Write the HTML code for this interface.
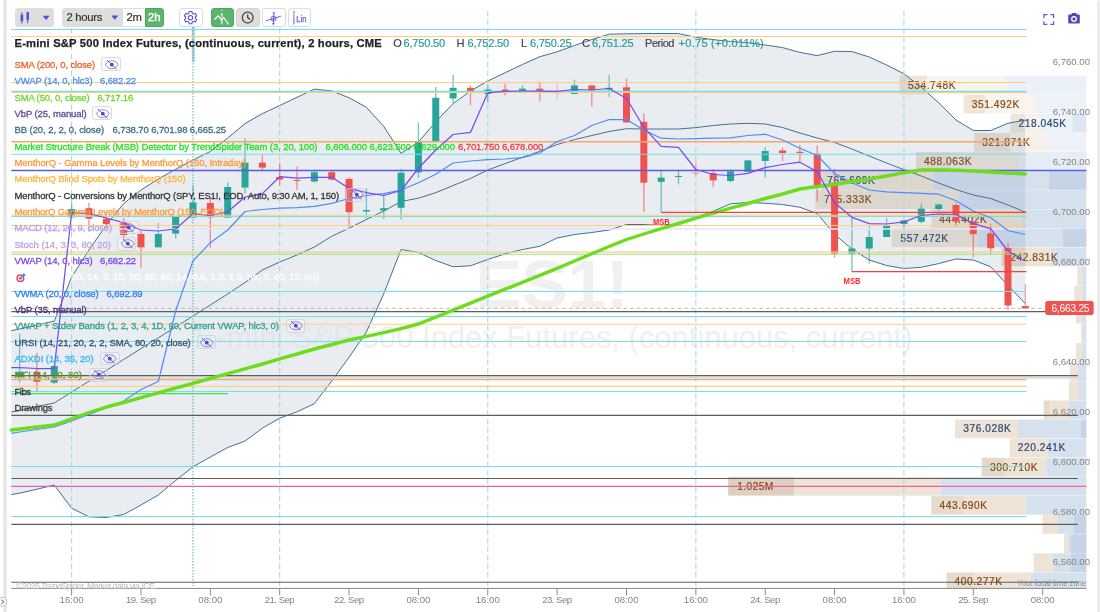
<!DOCTYPE html>
<html lang="en"><head><meta charset="utf-8"><title>E-mini S&amp;P 500 Index Futures chart</title>
<style>
html,body{margin:0;padding:0;background:#fff;}
body{width:1100px;height:612px;overflow:hidden;position:relative;will-change:transform;font-family:"Liberation Sans",sans-serif;}
.frame-l{position:absolute;left:2.5px;top:0;width:4.6px;height:612px;background:linear-gradient(90deg,#f1f1f1,#e6e6e6 30%,#e6e6e6 70%,#f1f1f1);}
.frame-r{position:absolute;left:1097px;top:0;width:3px;height:612px;background:#ececec;border-top-left-radius:3px;}
.chart{position:absolute;left:0;top:0;}
.tb-btn{position:absolute;top:7.5px;height:19.4px;box-sizing:border-box;border:1px solid #dcdcdc;border-radius:3px;background:#fff;}
.tb-btn svg{position:absolute;left:0;top:0;}
.grey{background:#dedede;border-color:#dedede;}
.green{background:#5db56c;border-color:#4fa75f;}
.tb-txt{position:absolute;font-size:11.3px;letter-spacing:-0.32px;color:#333;top:2.7px;line-height:12px;white-space:nowrap;-webkit-text-stroke:0.2px currentColor;}
.legend span,.titlebar span{position:absolute;white-space:nowrap;}
.lt{font-size:9.5px;line-height:12px;-webkit-text-stroke:0.28px currentColor;}
.eye{height:11.7px;border:1px solid rgba(205,205,205,0.75);border-radius:3px;background:rgba(255,255,255,0.14);box-sizing:content-box;}
.eye svg{position:absolute;left:-0.7px;top:-0.7px;}
.ticon svg{display:block;}
.tb{font-size:11.2px;font-weight:bold;top:36.6px;line-height:13px;-webkit-text-stroke:0.25px #222;}
.to{font-size:11.1px;top:36.9px;line-height:13px;-webkit-text-stroke:0.18px currentColor;}
</style></head>
<body>
<div class="frame-l"></div><div class="frame-r"></div>
<svg class="chart" width="1100" height="612" viewBox="0 0 1100 612">
<defs><clipPath id="outbb"><path clip-rule="evenodd" d="M0 0 H1100 V612 H0 Z M11.3 330.6 L19.6 329 L36.94 325 L54.28 321.1 L71.62 277 L88.96 250 L106.3 225 L123.64 203.6 L140.98 190 L158.32 179 L175.66 169.2 L193 160 L210.34 151.5 L227.68 138 L245.02 123.6 L262.36 113.6 L279.7 105.5 L297.04 97.3 L314.38 89.1 L331.72 90.9 L349.06 97.8 L366.4 107.3 L383.74 126.4 L401.08 153.3 L418.42 142 L435.76 121.8 L453.1 103.6 L470.44 91 L487.78 81 L505.12 72.7 L522.46 64.5 L539.8 56.7 L557.14 51.8 L574.48 45.5 L591.82 39.5 L609.16 34.2 L626.5 33.8 L643.84 33.6 L661.18 33.5 L678.52 33.6 L695.86 37.3 L713.2 39.6 L730.54 41.5 L747.88 42.7 L765.22 45 L782.56 47.6 L799.9 52.4 L817.24 55.6 L834.58 51.3 L851.92 51.6 L869.26 57 L886.6 65 L903.94 73.8 L921.28 87.3 L938.62 102.7 L955.96 120 L973.3 130.5 L990.64 130.5 L1007.98 123.3 L1025.32 120 L1025.32 303.6 L1007.98 285.5 L990.64 266.7 L973.3 260 L955.96 259 L938.62 263.6 L921.28 267.3 L903.94 268.5 L886.6 265.5 L869.26 260 L851.92 249 L834.58 234.5 L817.24 213.6 L799.9 207.3 L782.56 204.5 L765.22 203.3 L747.88 202.5 L730.54 203.8 L713.2 211.3 L695.86 217.5 L678.52 224.5 L661.18 225.5 L643.84 224.5 L626.5 224.5 L609.16 230 L591.82 232.5 L574.48 234.5 L557.14 238 L539.8 246.3 L522.46 249.5 L505.12 253.8 L487.78 259.5 L470.44 265.8 L453.1 266.8 L435.76 260.5 L418.42 252.5 L401.08 249.5 L383.74 293.8 L366.4 332 L349.06 357.3 L331.72 381 L314.38 403.6 L297.04 411.8 L279.7 418.2 L262.36 428.2 L245.02 441 L227.68 447.5 L210.34 457 L193 466.8 L175.66 480.5 L158.32 495 L140.98 505 L123.64 514.5 L106.3 517.5 L88.96 516.8 L71.62 508.2 L54.28 485 L36.94 489.2 L19.6 493.2 L11.3 494.5 Z"/></clipPath></defs>
<g class="wm" fill="#f7f7f7" font-family='"Liberation Sans", sans-serif'><text x="475.5" y="308" font-size="69" font-weight="bold">ES1!</text><text x="195.5" y="347.7" font-size="30.9" textLength="717" lengthAdjust="spacingAndGlyphs">E-mini S&amp;P 500 Index Futures, (continuous, current)</text></g>
<g class="wm" fill="#f0f0f0" clip-path="url(#outbb)" font-family='"Liberation Sans", sans-serif'><text x="475.5" y="308" font-size="69" font-weight="bold">ES1!</text><text x="195.5" y="347.7" font-size="30.9" textLength="717" lengthAdjust="spacingAndGlyphs">E-mini S&amp;P 500 Index Futures, (continuous, current)</text></g>
<g class="vp">
<rect x="899.6" y="75.6" width="27.3" height="18.75" fill="#efe6da"/>
<rect x="926.9" y="75.6" width="80.1" height="18.75" fill="#f8f4ee"/>
<rect x="1007" y="75.6" width="79.4" height="18.75" fill="#ebf1f8"/>
<rect x="963.6" y="94.71" width="22.2" height="18.75" fill="#efe6da"/>
<rect x="985.8" y="94.71" width="50.2" height="18.75" fill="#f8f4ee"/>
<rect x="1036" y="94.71" width="50.4" height="18.75" fill="#edf2f8"/>
<rect x="1010.4" y="113.82" width="15.1" height="18.75" fill="#efe6da"/>
<rect x="1025.5" y="113.82" width="15.5" height="18.75" fill="#f6f2eb"/>
<rect x="1041" y="113.82" width="31.4" height="18.75" fill="#edf2f8"/>
<rect x="1072.4" y="113.82" width="14" height="18.75" fill="#dde6f1"/>
<rect x="974.2" y="132.92" width="36.2" height="18.75" fill="#ece2d5"/>
<rect x="1010.4" y="132.92" width="37.6" height="18.75" fill="#f6f2eb"/>
<rect x="1048" y="132.92" width="38.4" height="18.75" fill="#edf2f8"/>
<rect x="916" y="152.03" width="35.3" height="18.75" fill="#ece2d4"/>
<rect x="951.3" y="152.03" width="67.7" height="18.75" fill="#f1e9de"/>
<rect x="1019" y="152.03" width="67.4" height="18.75" fill="#e6edf5"/>
<rect x="821" y="171.14" width="112.6" height="18.75" fill="#f0e6d8"/>
<rect x="933.6" y="171.14" width="115.1" height="18.75" fill="#d6e1ee"/>
<rect x="1048.7" y="171.14" width="37.7" height="18.75" fill="#c7d4e7"/>
<rect x="815.5" y="190.25" width="143" height="18.75" fill="#f0e6d8"/>
<rect x="958.5" y="190.25" width="127.9" height="18.75" fill="#d6e1ee"/>
<rect x="931.3" y="209.36" width="90.2" height="18.75" fill="#f0e6d8"/>
<rect x="1021.5" y="209.36" width="64.9" height="18.75" fill="#d6e1ee"/>
<rect x="891.5" y="228.46" width="85.8" height="18.75" fill="#f0e6d8"/>
<rect x="977.3" y="228.46" width="85.1" height="18.75" fill="#d6e1ee"/>
<rect x="1062.4" y="228.46" width="24" height="18.75" fill="#c7d4e7"/>
<rect x="1001.5" y="247.57" width="24.5" height="18.75" fill="#ebdfcf"/>
<rect x="1026" y="247.57" width="24.5" height="18.75" fill="#ede4d7"/>
<rect x="1050.5" y="247.57" width="35.9" height="18.75" fill="#d6e1ee"/>
<rect x="1077.3" y="266.68" width="4.5" height="18.75" fill="#ede4d7"/>
<rect x="1081.8" y="266.68" width="4.6" height="18.75" fill="#d6e1ee"/>
<rect x="1074.2" y="285.79" width="7.6" height="18.75" fill="#ede4d7"/>
<rect x="1081.8" y="285.79" width="4.6" height="18.75" fill="#d6e1ee"/>
<rect x="1076" y="304.9" width="6" height="18.75" fill="#ede4d7"/>
<rect x="1082" y="304.9" width="4.4" height="18.75" fill="#d6e1ee"/>
<rect x="1081" y="324" width="2" height="18.75" fill="#ede4d7"/>
<rect x="1083" y="324" width="3.4" height="18.75" fill="#d6e1ee"/>
<rect x="1076" y="343.11" width="6" height="18.75" fill="#ede4d7"/>
<rect x="1082" y="343.11" width="4.4" height="18.75" fill="#d6e1ee"/>
<rect x="1070" y="362.22" width="8" height="18.75" fill="#ede4d7"/>
<rect x="1078" y="362.22" width="8.4" height="18.75" fill="#d6e1ee"/>
<rect x="1069" y="381.33" width="10" height="18.75" fill="#ede4d7"/>
<rect x="1079" y="381.33" width="7.4" height="18.75" fill="#d6e1ee"/>
<rect x="1043.6" y="400.44" width="6.9" height="18.75" fill="#e6dccd"/>
<rect x="1050.5" y="400.44" width="18.2" height="18.75" fill="#ede4d7"/>
<rect x="1068.7" y="400.44" width="17.7" height="18.75" fill="#d6e1ee"/>
<rect x="955" y="419.54" width="63" height="18.75" fill="#ede4d7"/>
<rect x="1018" y="419.54" width="63" height="18.75" fill="#d6e1ee"/>
<rect x="1081" y="419.54" width="5.4" height="18.75" fill="#c7d4e7"/>
<rect x="1009.6" y="438.65" width="38.2" height="18.75" fill="#ede4d7"/>
<rect x="1047.8" y="438.65" width="38.6" height="18.75" fill="#d6e1ee"/>
<rect x="981.5" y="457.76" width="22.5" height="18.75" fill="#e4d9c9"/>
<rect x="1004" y="457.76" width="41.5" height="18.75" fill="#ede4d7"/>
<rect x="1045.5" y="457.76" width="40.9" height="18.75" fill="#d6e1ee"/>
<rect x="728.2" y="476.87" width="66.3" height="18.75" fill="#ddd0be"/>
<rect x="794.5" y="476.87" width="146.5" height="18.75" fill="#ede4d7"/>
<rect x="941" y="476.87" width="145.4" height="18.75" fill="#d6e1ee"/>
<rect x="931.3" y="495.98" width="33.2" height="18.75" fill="#e6dccd"/>
<rect x="964.5" y="495.98" width="61.3" height="18.75" fill="#ede4d7"/>
<rect x="1025.8" y="495.98" width="60.6" height="18.75" fill="#d6e1ee"/>
<rect x="1042.4" y="515.08" width="15.6" height="18.75" fill="#ede4d7"/>
<rect x="1058" y="515.08" width="16" height="18.75" fill="#d6e1ee"/>
<rect x="1074" y="515.08" width="12.4" height="18.75" fill="#c7d4e7"/>
<rect x="1064" y="534.19" width="4" height="18.75" fill="#ede4d7"/>
<rect x="1068" y="534.19" width="3" height="18.75" fill="#d6e1ee"/>
<rect x="1071" y="534.19" width="15.4" height="18.75" fill="#c7d4e7"/>
<rect x="1033.6" y="553.3" width="18.8" height="18.75" fill="#ede4d7"/>
<rect x="1052.4" y="553.3" width="18.6" height="18.75" fill="#d6e1ee"/>
<rect x="1071" y="553.3" width="15.4" height="18.75" fill="#c7d4e7"/>
<rect x="946.4" y="572.41" width="27.6" height="15.89" fill="#e6dccd"/>
<rect x="974" y="572.41" width="56.4" height="15.89" fill="#ede4d7"/>
<rect x="1030.4" y="572.41" width="56" height="15.89" fill="#d6e1ee"/>
</g>
<g class="vplabels" font-family='"Liberation Sans", sans-serif' font-size="10.2">
<text x="908" y="89.1" fill="#8a4a17" stroke="#8a4a17" stroke-width="0.22" textLength="47.5" lengthAdjust="spacing">534.748K</text>
<text x="971.8" y="107.8" fill="#8a4a17" stroke="#8a4a17" stroke-width="0.22" textLength="47.5" lengthAdjust="spacing">351.492K</text>
<text x="1018.5" y="126.9" fill="#2c4a78" stroke="#2c4a78" stroke-width="0.22" textLength="47.5" lengthAdjust="spacing">218.045K</text>
<text x="982.2" y="146" fill="#8a4a17" stroke="#8a4a17" stroke-width="0.22" textLength="47.5" lengthAdjust="spacing">321.871K</text>
<text x="924" y="165.1" fill="#8a4a17" stroke="#8a4a17" stroke-width="0.22" textLength="47.5" lengthAdjust="spacing">488.063K</text>
<text x="827.3" y="184" fill="#2c4a78" stroke="#2c4a78" stroke-width="0.22" textLength="47.5" lengthAdjust="spacing">765.609K</text>
<text x="824" y="203.2" fill="#8a4a17" stroke="#8a4a17" stroke-width="0.22" textLength="47.5" lengthAdjust="spacing">715.333K</text>
<text x="939.3" y="222.6" fill="#8a4a17" stroke="#8a4a17" stroke-width="0.22" textLength="47.5" lengthAdjust="spacing">444.402K</text>
<text x="900.5" y="241.8" fill="#2c4a78" stroke="#2c4a78" stroke-width="0.22" textLength="47.5" lengthAdjust="spacing">557.472K</text>
<text x="1010.3" y="261.1" fill="#8a4a17" stroke="#8a4a17" stroke-width="0.22" textLength="47.5" lengthAdjust="spacing">242.831K</text>
<text x="963.3" y="432.3" fill="#2c4a78" stroke="#2c4a78" stroke-width="0.22" textLength="47.5" lengthAdjust="spacing">376.028K</text>
<text x="1017.8" y="450.9" fill="#2c4a78" stroke="#2c4a78" stroke-width="0.22" textLength="47.5" lengthAdjust="spacing">220.241K</text>
<text x="990" y="470.8" fill="#8a4a17" stroke="#8a4a17" stroke-width="0.22" textLength="47.5" lengthAdjust="spacing">300.710K</text>
<text x="737.3" y="490.1" fill="#8a4a17" stroke="#8a4a17" stroke-width="0.22" textLength="36" lengthAdjust="spacing">1.025M</text>
<text x="939.6" y="508.6" fill="#8a4a17" stroke="#8a4a17" stroke-width="0.22" textLength="47.5" lengthAdjust="spacing">443.690K</text>
<text x="954.5" y="584.6" fill="#8a4a17" stroke="#8a4a17" stroke-width="0.22" textLength="47.5" lengthAdjust="spacing">400.277K</text>
</g>
<polygon points="11.3,330.6 19.6,329 36.94,325 54.28,321.1 71.62,277 88.96,250 106.3,225 123.64,203.6 140.98,190 158.32,179 175.66,169.2 193,160 210.34,151.5 227.68,138 245.02,123.6 262.36,113.6 279.7,105.5 297.04,97.3 314.38,89.1 331.72,90.9 349.06,97.8 366.4,107.3 383.74,126.4 401.08,153.3 418.42,142 435.76,121.8 453.1,103.6 470.44,91 487.78,81 505.12,72.7 522.46,64.5 539.8,56.7 557.14,51.8 574.48,45.5 591.82,39.5 609.16,34.2 626.5,33.8 643.84,33.6 661.18,33.5 678.52,33.6 695.86,37.3 713.2,39.6 730.54,41.5 747.88,42.7 765.22,45 782.56,47.6 799.9,52.4 817.24,55.6 834.58,51.3 851.92,51.6 869.26,57 886.6,65 903.94,73.8 921.28,87.3 938.62,102.7 955.96,120 973.3,130.5 990.64,130.5 1007.98,123.3 1025.32,120 1025.32,303.6 1007.98,285.5 990.64,266.7 973.3,260 955.96,259 938.62,263.6 921.28,267.3 903.94,268.5 886.6,265.5 869.26,260 851.92,249 834.58,234.5 817.24,213.6 799.9,207.3 782.56,204.5 765.22,203.3 747.88,202.5 730.54,203.8 713.2,211.3 695.86,217.5 678.52,224.5 661.18,225.5 643.84,224.5 626.5,224.5 609.16,230 591.82,232.5 574.48,234.5 557.14,238 539.8,246.3 522.46,249.5 505.12,253.8 487.78,259.5 470.44,265.8 453.1,266.8 435.76,260.5 418.42,252.5 401.08,249.5 383.74,293.8 366.4,332 349.06,357.3 331.72,381 314.38,403.6 297.04,411.8 279.7,418.2 262.36,428.2 245.02,441 227.68,447.5 210.34,457 193,466.8 175.66,480.5 158.32,495 140.98,505 123.64,514.5 106.3,517.5 88.96,516.8 71.62,508.2 54.28,485 36.94,489.2 19.6,493.2 11.3,494.5" fill="rgba(70,110,150,0.12)"/>
<polyline points="11.3,330.6 19.6,329 36.94,325 54.28,321.1 71.62,277 88.96,250 106.3,225 123.64,203.6 140.98,190 158.32,179 175.66,169.2 193,160 210.34,151.5 227.68,138 245.02,123.6 262.36,113.6 279.7,105.5 297.04,97.3 314.38,89.1 331.72,90.9 349.06,97.8 366.4,107.3 383.74,126.4 401.08,153.3 418.42,142 435.76,121.8 453.1,103.6 470.44,91 487.78,81 505.12,72.7 522.46,64.5 539.8,56.7 557.14,51.8 574.48,45.5 591.82,39.5 609.16,34.2 626.5,33.8 643.84,33.6 661.18,33.5 678.52,33.6 695.86,37.3 713.2,39.6 730.54,41.5 747.88,42.7 765.22,45 782.56,47.6 799.9,52.4 817.24,55.6 834.58,51.3 851.92,51.6 869.26,57 886.6,65 903.94,73.8 921.28,87.3 938.62,102.7 955.96,120 973.3,130.5 990.64,130.5 1007.98,123.3 1025.32,120" fill="none" stroke="#44718f" stroke-width="1.0" stroke-linejoin="round"/>
<polyline points="11.3,412 19.6,410.5 36.94,406.5 54.28,403 71.62,392 88.96,381.2 106.3,370.4 123.64,359.5 140.98,348.6 158.32,337.8 175.66,327 193,316 210.34,305 227.68,294 245.02,282.5 262.36,270 279.7,262 297.04,255 314.38,247 331.72,236.3 349.06,228.2 366.4,219.5 383.74,211 401.08,201.5 418.42,198.2 435.76,192.7 453.1,185.5 470.44,178.5 487.78,170 505.12,163.6 522.46,157.3 539.8,151.3 557.14,144.5 574.48,139.6 591.82,135.5 609.16,131.5 626.5,128.7 643.84,129 661.18,129 678.52,129 695.86,127.6 713.2,125.5 730.54,124 747.88,123.3 765.22,124 782.56,127.5 799.9,133 817.24,138 834.58,142.5 851.92,149 869.26,156 886.6,163 903.94,169.7 921.28,176 938.62,183 955.96,189.5 973.3,195 990.64,198.5 1007.98,205 1025.32,212.2" fill="none" stroke="#44718f" stroke-width="1.0" stroke-linejoin="round"/>
<polyline points="11.3,494.5 19.6,493.2 36.94,489.2 54.28,485 71.62,508.2 88.96,516.8 106.3,517.5 123.64,514.5 140.98,505 158.32,495 175.66,480.5 193,466.8 210.34,457 227.68,447.5 245.02,441 262.36,428.2 279.7,418.2 297.04,411.8 314.38,403.6 331.72,381 349.06,357.3 366.4,332 383.74,293.8 401.08,249.5 418.42,252.5 435.76,260.5 453.1,266.8 470.44,265.8 487.78,259.5 505.12,253.8 522.46,249.5 539.8,246.3 557.14,238 574.48,234.5 591.82,232.5 609.16,230 626.5,224.5 643.84,224.5 661.18,225.5 678.52,224.5 695.86,217.5 713.2,211.3 730.54,203.8 747.88,202.5 765.22,203.3 782.56,204.5 799.9,207.3 817.24,213.6 834.58,234.5 851.92,249 869.26,260 886.6,265.5 903.94,268.5 921.28,267.3 938.62,263.6 955.96,259 973.3,260 990.64,266.7 1007.98,285.5 1025.32,303.6" fill="none" stroke="#44718f" stroke-width="1.0" stroke-linejoin="round"/>
<g class="vgrid">
<line x1="71.62" y1="28" x2="71.62" y2="588" stroke="#b3d3d3" stroke-width="1.05" stroke-dasharray="5.5 3"/>
<line x1="279.7" y1="28" x2="279.7" y2="588" stroke="#b3d3d3" stroke-width="1.05" stroke-dasharray="5.5 3"/>
<line x1="487.78" y1="11" x2="487.78" y2="588" stroke="#b3d3d3" stroke-width="1.05" stroke-dasharray="5.5 3"/>
<line x1="695.86" y1="11" x2="695.86" y2="588" stroke="#b3d3d3" stroke-width="1.05" stroke-dasharray="5.5 3"/>
<line x1="903.94" y1="11" x2="903.94" y2="588" stroke="#b3d3d3" stroke-width="1.05" stroke-dasharray="5.5 3"/>
<line x1="193.3" y1="27" x2="193.3" y2="62" stroke="#a9d6e6" stroke-width="3"/>
<line x1="193" y1="27" x2="193" y2="586" stroke="#58a5ab" stroke-width="1.15" stroke-dasharray="1.5 1.5" opacity="0.85"/>
</g>
<g class="candles">
<g><line x1="19.6" y1="333.6" x2="19.6" y2="382.7" stroke="#26a69a" stroke-width="1.35" opacity="0.62"/><rect x="16.1" y="371.8" width="7" height="6.2" fill="#26a69a"/></g>
<g><line x1="36.94" y1="352.7" x2="36.94" y2="391" stroke="#ef5350" stroke-width="1.35" opacity="0.62"/><rect x="33.44" y="372" width="7" height="9.8" fill="#ef5350"/></g>
<g><line x1="54.28" y1="365" x2="54.28" y2="384" stroke="#26a69a" stroke-width="1.35" opacity="0.62"/><rect x="50.78" y="366" width="7" height="16.7" fill="#26a69a"/></g>
<g><line x1="71.62" y1="202.7" x2="71.62" y2="217.3" stroke="#26a69a" stroke-width="1.35" opacity="0.62"/><rect x="68.12" y="209" width="7" height="8.3" fill="#26a69a"/></g>
<g><line x1="88.96" y1="202.7" x2="88.96" y2="231.8" stroke="#ef5350" stroke-width="1.35" opacity="0.62"/><rect x="85.46" y="208.2" width="7" height="10.5" fill="#ef5350"/></g>
<g><line x1="106.3" y1="212" x2="106.3" y2="230.7" stroke="#ef5350" stroke-width="1.35" opacity="0.62"/><rect x="102.8" y="218.7" width="7" height="5.3" fill="#ef5350"/></g>
<g><line x1="123.64" y1="218" x2="123.64" y2="240" stroke="#ef5350" stroke-width="1.35" opacity="0.62"/><rect x="120.14" y="222.4" width="7" height="12.6" fill="#ef5350"/></g>
<g><line x1="140.98" y1="231" x2="140.98" y2="267.6" stroke="#ef5350" stroke-width="1.35" opacity="0.62"/><rect x="137.48" y="234" width="7" height="13.3" fill="#ef5350"/></g>
<g><line x1="158.32" y1="222.7" x2="158.32" y2="247.3" stroke="#26a69a" stroke-width="1.35" opacity="0.62"/><rect x="154.82" y="234" width="7" height="13.3" fill="#26a69a"/></g>
<g><line x1="175.66" y1="216.4" x2="175.66" y2="238.5" stroke="#26a69a" stroke-width="1.35" opacity="0.62"/><rect x="172.16" y="217" width="7" height="16.6" fill="#26a69a"/></g>
<g><line x1="193" y1="185.5" x2="193" y2="217.6" stroke="#26a69a" stroke-width="1.35" opacity="0.62"/><rect x="189.5" y="202.4" width="7" height="15.2" fill="#26a69a"/></g>
<g><line x1="210.34" y1="198" x2="210.34" y2="248" stroke="#ef5350" stroke-width="1.35" opacity="0.62"/><rect x="206.84" y="203" width="7" height="14.3" fill="#ef5350"/></g>
<g><line x1="227.68" y1="182.4" x2="227.68" y2="217.6" stroke="#26a69a" stroke-width="1.35" opacity="0.62"/><rect x="224.18" y="187" width="7" height="30.6" fill="#26a69a"/></g>
<g><line x1="245.02" y1="138.2" x2="245.02" y2="193.6" stroke="#26a69a" stroke-width="1.35" opacity="0.62"/><rect x="241.52" y="162.7" width="7" height="24.9" fill="#26a69a"/></g>
<g><line x1="262.36" y1="154.5" x2="262.36" y2="171.3" stroke="#ef5350" stroke-width="1.35" opacity="0.62"/><rect x="258.86" y="162.7" width="7" height="4.9" fill="#ef5350"/></g>
<g><line x1="279.7" y1="162.7" x2="279.7" y2="185.5" stroke="#ef5350" stroke-width="1.35" opacity="0.62"/><rect x="276.2" y="177" width="7" height="2.6" fill="#ef5350"/></g>
<g><line x1="297.04" y1="166.4" x2="297.04" y2="190" stroke="#ef5350" stroke-width="1.35" opacity="0.62"/><rect x="293.54" y="180" width="7" height="1" fill="#ef5350"/></g>
<g><line x1="314.38" y1="169.5" x2="314.38" y2="182.7" stroke="#26a69a" stroke-width="1.35" opacity="0.62"/><rect x="310.88" y="172.2" width="7" height="9.3" fill="#26a69a"/></g>
<g><line x1="331.72" y1="170" x2="331.72" y2="180.4" stroke="#ef5350" stroke-width="1.35" opacity="0.62"/><rect x="328.22" y="172.2" width="7" height="7.4" fill="#ef5350"/></g>
<g><line x1="349.06" y1="177.3" x2="349.06" y2="227.6" stroke="#ef5350" stroke-width="1.35" opacity="0.62"/><rect x="345.56" y="179" width="7" height="33.2" fill="#ef5350"/></g>
<g><line x1="366.4" y1="188.2" x2="366.4" y2="218.5" stroke="#26a69a" stroke-width="1.35" opacity="0.62"/><rect x="362.9" y="210" width="7" height="1.5" fill="#26a69a"/></g>
<g><line x1="383.74" y1="194.5" x2="383.74" y2="219" stroke="#26a69a" stroke-width="1.35" opacity="0.62"/><rect x="380.24" y="208.2" width="7" height="2.3" fill="#26a69a"/></g>
<g><line x1="401.08" y1="169" x2="401.08" y2="219.6" stroke="#26a69a" stroke-width="1.35" opacity="0.62"/><rect x="397.58" y="172.7" width="7" height="35.1" fill="#26a69a"/></g>
<g><line x1="418.42" y1="122.7" x2="418.42" y2="177.8" stroke="#26a69a" stroke-width="1.35" opacity="0.62"/><rect x="414.92" y="141.8" width="7" height="30.6" fill="#26a69a"/></g>
<g><line x1="435.76" y1="87" x2="435.76" y2="141.8" stroke="#26a69a" stroke-width="1.35" opacity="0.62"/><rect x="432.26" y="97.8" width="7" height="44" fill="#26a69a"/></g>
<g><line x1="453.1" y1="75" x2="453.1" y2="103.6" stroke="#26a69a" stroke-width="1.35" opacity="0.62"/><rect x="449.6" y="87.8" width="7" height="10.7" fill="#26a69a"/></g>
<g><line x1="470.44" y1="85.5" x2="470.44" y2="105" stroke="#ef5350" stroke-width="1.35" opacity="0.62"/><rect x="466.94" y="87.8" width="7" height="4.9" fill="#ef5350"/></g>
<g><line x1="487.78" y1="85" x2="487.78" y2="102.7" stroke="#26a69a" stroke-width="1.35" opacity="0.62"/><rect x="484.28" y="89.5" width="7" height="4.5" fill="#26a69a"/></g>
<g><line x1="505.12" y1="83.6" x2="505.12" y2="95.5" stroke="#ef5350" stroke-width="1.35" opacity="0.62"/><rect x="501.62" y="89.5" width="7" height="1.8" fill="#ef5350"/></g>
<g><line x1="522.46" y1="85.5" x2="522.46" y2="91" stroke="#26a69a" stroke-width="1.35" opacity="0.62"/><rect x="518.96" y="88.7" width="7" height="2.3" fill="#26a69a"/></g>
<g><line x1="539.8" y1="81.8" x2="539.8" y2="101" stroke="#ef5350" stroke-width="1.35" opacity="0.62"/><rect x="536.3" y="88.7" width="7" height="2.3" fill="#ef5350"/></g>
<g opacity="0.45"><line x1="557.14" y1="82.7" x2="557.14" y2="99" stroke="#ef5350" stroke-width="1.35" opacity="0.62"/><rect x="553.64" y="91.8" width="7" height="1.5" fill="#ef5350"/></g>
<g><line x1="574.48" y1="79.6" x2="574.48" y2="94" stroke="#26a69a" stroke-width="1.35" opacity="0.62"/><rect x="570.98" y="85.5" width="7" height="8.5" fill="#26a69a"/></g>
<g><line x1="591.82" y1="85" x2="591.82" y2="106.4" stroke="#ef5350" stroke-width="1.35" opacity="0.62"/><rect x="588.32" y="85.5" width="7" height="4.5" fill="#ef5350"/></g>
<g><line x1="609.16" y1="75" x2="609.16" y2="96.7" stroke="#26a69a" stroke-width="1.35" opacity="0.62"/><rect x="605.66" y="87.8" width="7" height="1.7" fill="#26a69a"/></g>
<g><line x1="626.5" y1="78.5" x2="626.5" y2="123" stroke="#ef5350" stroke-width="1.35" opacity="0.62"/><rect x="623" y="87.3" width="7" height="35.1" fill="#ef5350"/></g>
<g><line x1="643.84" y1="113.3" x2="643.84" y2="211.8" stroke="#ef5350" stroke-width="1.35" opacity="0.62"/><rect x="640.34" y="121.8" width="7" height="60.9" fill="#ef5350"/></g>
<g><line x1="661.18" y1="171" x2="661.18" y2="212.4" stroke="#26a69a" stroke-width="1.35" opacity="0.62"/><rect x="657.68" y="177.6" width="7" height="4.2" fill="#26a69a"/></g>
<g><line x1="678.52" y1="169.5" x2="678.52" y2="184.5" stroke="#26a69a" stroke-width="1.35" opacity="0.62"/><rect x="675.02" y="176" width="7" height="1" fill="#26a69a"/></g>
<g opacity="0.45"><line x1="695.86" y1="160.4" x2="695.86" y2="176.4" stroke="#ef5350" stroke-width="1.35" opacity="0.62"/><rect x="692.36" y="172.4" width="7" height="1.4" fill="#ef5350"/></g>
<g><line x1="713.2" y1="169" x2="713.2" y2="187.3" stroke="#ef5350" stroke-width="1.35" opacity="0.62"/><rect x="709.7" y="173" width="7" height="7.4" fill="#ef5350"/></g>
<g><line x1="730.54" y1="169.5" x2="730.54" y2="182.7" stroke="#26a69a" stroke-width="1.35" opacity="0.62"/><rect x="727.04" y="171.3" width="7" height="9.7" fill="#26a69a"/></g>
<g><line x1="747.88" y1="160" x2="747.88" y2="172" stroke="#26a69a" stroke-width="1.35" opacity="0.62"/><rect x="744.38" y="160.4" width="7" height="11.4" fill="#26a69a"/></g>
<g><line x1="765.22" y1="147.3" x2="765.22" y2="177.8" stroke="#26a69a" stroke-width="1.35" opacity="0.62"/><rect x="761.72" y="151" width="7" height="10" fill="#26a69a"/></g>
<g><line x1="782.56" y1="147.6" x2="782.56" y2="161" stroke="#ef5350" stroke-width="1.35" opacity="0.62"/><rect x="779.06" y="150.5" width="7" height="2.5" fill="#ef5350"/></g>
<g><line x1="799.9" y1="145" x2="799.9" y2="161.5" stroke="#ef5350" stroke-width="1.35" opacity="0.62"/><rect x="796.4" y="151.8" width="7" height="1.2" fill="#ef5350"/></g>
<g><line x1="817.24" y1="145.5" x2="817.24" y2="201.5" stroke="#ef5350" stroke-width="1.35" opacity="0.62"/><rect x="813.74" y="153.6" width="7" height="31.9" fill="#ef5350"/></g>
<g><line x1="834.58" y1="169" x2="834.58" y2="257.6" stroke="#ef5350" stroke-width="1.35" opacity="0.62"/><rect x="831.08" y="182.7" width="7" height="70.9" fill="#ef5350"/></g>
<g><line x1="851.92" y1="217.3" x2="851.92" y2="271.5" stroke="#26a69a" stroke-width="1.35" opacity="0.62"/><rect x="848.42" y="248.5" width="7" height="5.1" fill="#26a69a"/></g>
<g><line x1="869.26" y1="226.4" x2="869.26" y2="263.6" stroke="#26a69a" stroke-width="1.35" opacity="0.62"/><rect x="865.76" y="237" width="7" height="11.5" fill="#26a69a"/></g>
<g><line x1="886.6" y1="218.2" x2="886.6" y2="237" stroke="#26a69a" stroke-width="1.35" opacity="0.62"/><rect x="883.1" y="225" width="7" height="12" fill="#26a69a"/></g>
<g><line x1="903.94" y1="220" x2="903.94" y2="229.5" stroke="#26a69a" stroke-width="1.35" opacity="0.62"/><rect x="900.44" y="220.4" width="7" height="3.6" fill="#26a69a"/></g>
<g><line x1="921.28" y1="203.6" x2="921.28" y2="223.3" stroke="#26a69a" stroke-width="1.35" opacity="0.62"/><rect x="917.78" y="208.7" width="7" height="13.1" fill="#26a69a"/></g>
<g><line x1="938.62" y1="203.6" x2="938.62" y2="211" stroke="#26a69a" stroke-width="1.35" opacity="0.62"/><rect x="935.12" y="204.5" width="7" height="4.5" fill="#26a69a"/></g>
<g><line x1="955.96" y1="203" x2="955.96" y2="226.4" stroke="#ef5350" stroke-width="1.35" opacity="0.62"/><rect x="952.46" y="205" width="7" height="16.5" fill="#ef5350"/></g>
<g><line x1="973.3" y1="221" x2="973.3" y2="257.3" stroke="#ef5350" stroke-width="1.35" opacity="0.62"/><rect x="969.8" y="221.8" width="7" height="12.4" fill="#ef5350"/></g>
<g><line x1="990.64" y1="223.6" x2="990.64" y2="255" stroke="#ef5350" stroke-width="1.35" opacity="0.62"/><rect x="987.14" y="233.3" width="7" height="14.9" fill="#ef5350"/></g>
<g><line x1="1007.98" y1="242.7" x2="1007.98" y2="310" stroke="#ef5350" stroke-width="1.35" opacity="0.62"/><rect x="1004.48" y="248.2" width="7" height="57.3" fill="#ef5350"/></g>
<g><line x1="1025.32" y1="284" x2="1025.32" y2="308.5" stroke="#ef5350" stroke-width="1.35" opacity="0.5"/><rect x="1021.82" y="306" width="7" height="2.5" fill="#ef5350"/></g>
</g>
<g class="hlines">
<line x1="11.3" y1="29.5" x2="1026.4" y2="29.5" stroke="#74e1e7" stroke-width="1.12"/>
<line x1="11.3" y1="36.5" x2="1026.4" y2="36.5" stroke="#ffcd7c" stroke-width="1.1"/>
<line x1="11.3" y1="82.5" x2="1026.4" y2="82.5" stroke="#ffcd7c" stroke-width="1.1"/>
<line x1="11.3" y1="91.4" x2="1026.4" y2="91.4" stroke="#74e1e7" stroke-width="1.12"/>
<line x1="11.3" y1="92.5" x2="1026.4" y2="92.5" stroke="#ffcd7c" stroke-width="1.1"/>
<line x1="11.3" y1="141.8" x2="1026.4" y2="141.8" stroke="#f7a868" stroke-width="1.4"/>
<line x1="11.3" y1="154.2" x2="1026.4" y2="154.2" stroke="#74e1e7" stroke-width="1.12"/>
<line x1="11.3" y1="215.3" x2="1026.4" y2="215.3" stroke="#ffcd7c" stroke-width="1.1"/>
<line x1="11.3" y1="216.5" x2="1026.4" y2="216.5" stroke="#74e1e7" stroke-width="1.12"/>
<line x1="11.3" y1="225.5" x2="1026.4" y2="225.5" stroke="#ffcd7c" stroke-width="1.1"/>
<line x1="11.3" y1="229" x2="1026.4" y2="229" stroke="#e3e6f7" stroke-width="1.3"/>
<line x1="11.3" y1="252.2" x2="1026.4" y2="252.2" stroke="#ffcb7c" stroke-width="1.25"/>
<line x1="11.3" y1="254.15" x2="1026.4" y2="254.15" stroke="#8ee58e" stroke-width="1.05"/>
<line x1="11.3" y1="291.5" x2="1026.4" y2="291.5" stroke="#74e1e7" stroke-width="1.12"/>
<line x1="11.3" y1="316.5" x2="1026.4" y2="316.5" stroke="#74e1e7" stroke-width="1.12"/>
<line x1="11.3" y1="324.3" x2="1026.4" y2="324.3" stroke="#ffcd7c" stroke-width="1.1"/>
<line x1="11.3" y1="341.5" x2="1026.4" y2="341.5" stroke="#74e1e7" stroke-width="1.12"/>
<line x1="11.3" y1="377.7" x2="1086.4" y2="377.7" stroke="#dcdcdc" stroke-width="2.2"/>
<line x1="11.3" y1="375.6" x2="1077.8" y2="375.6" stroke="#5e5e5e" stroke-width="1.15"/>
<line x1="11.3" y1="379.6" x2="1026.4" y2="379.6" stroke="#f7a868" stroke-width="1.4"/>
<line x1="11.3" y1="386.4" x2="1026.4" y2="386.4" stroke="#ffcd7c" stroke-width="1.1"/>
<line x1="11.3" y1="391.5" x2="1026.4" y2="391.5" stroke="#74e1e7" stroke-width="1.12"/>
<line x1="11.3" y1="415.3" x2="1077.8" y2="415.3" stroke="#5e5e5e" stroke-width="1.15"/>
<line x1="11.3" y1="466.5" x2="1026.4" y2="466.5" stroke="#74e1e7" stroke-width="1.12"/>
<line x1="11.3" y1="478.5" x2="1077.8" y2="478.5" stroke="#5e5e5e" stroke-width="1.15"/>
<line x1="11.3" y1="486.3" x2="1086.4" y2="486.3" stroke="#e962aa" stroke-width="1.15"/>
<line x1="11.3" y1="516.5" x2="1026.4" y2="516.5" stroke="#74e1e7" stroke-width="1.12"/>
<line x1="11.3" y1="524.3" x2="1077.8" y2="524.3" stroke="#5e5e5e" stroke-width="1.15"/>
<line x1="11.3" y1="582.25" x2="1077.8" y2="582.25" stroke="#5e5e5e" stroke-width="1.15"/>
<line x1="11.3" y1="311.6" x2="1060" y2="311.6" stroke="#5e5e5e" stroke-width="1.2"/>
<line x1="11.3" y1="170.5" x2="1086.4" y2="170.5" stroke="#5c5ce0" stroke-width="1.5"/>
<line x1="11.3" y1="393.7" x2="228" y2="393.7" stroke="#3fe84a" stroke-width="1.3"/>
<line x1="11.3" y1="308.3" x2="1046" y2="308.3" stroke="#b9b9b9" stroke-width="1" stroke-dasharray="3.6 3.2"/>
</g>
<polyline points="11.3,433.3 19.6,432 36.94,429.5 54.28,427 71.62,421 88.96,414.5 106.3,408 123.64,401 140.98,389.5 158.32,381.5 175.66,311 193,261 210.34,242.7 227.68,230 245.02,211.5 262.36,209.5 279.7,208.2 297.04,207.6 314.38,206.4 331.72,203.3 349.06,198.5 366.4,195.5 383.74,193.6 401.08,190 418.42,182.7 435.76,174.2 453.1,163 470.44,161 487.78,159.6 505.12,159 522.46,157.6 539.8,153 557.14,141.5 574.48,135.5 591.82,125.5 609.16,119.5 626.5,119.6 643.84,130 661.18,138.2 678.52,139 695.86,138.7 713.2,138.2 730.54,137.8 747.88,135.5 765.22,134.2 782.56,140 799.9,148.2 817.24,155.5 834.58,173.6 851.92,182.7 869.26,190 886.6,191.8 903.94,192.7 921.28,193.3 938.62,194.2 955.96,200.7 973.3,211 990.64,217.8 1007.98,230.5 1025.32,234.5" fill="none" stroke="#4d8df7" stroke-width="1.2" stroke-linejoin="round"/>
<polyline points="11.3,430 19.6,429 36.94,427 54.28,425 71.62,418.8 88.96,412.5 106.3,407 123.64,402.5 140.98,397.7 158.32,392.9 175.66,388 193,383.3 210.34,378.5 227.68,373.7 245.02,368.9 262.36,364 279.7,358.8 297.04,354 314.38,349 331.72,344.5 349.06,340 366.4,336.3 383.74,332.7 401.08,328.7 418.42,324 435.76,317.1 453.1,310.1 470.44,303.1 487.78,296.2 505.12,289.2 522.46,282.3 539.8,275.3 557.14,268.3 574.48,261 591.82,253.7 609.16,246.5 626.5,239.5 643.84,234 661.18,228.7 678.52,223.5 695.86,218.2 713.2,213.2 730.54,208.2 747.88,203.5 765.22,198.5 782.56,194 799.9,189 817.24,186.5 834.58,184.5 851.92,181.5 869.26,179 886.6,176 903.94,172.7 921.28,170 938.62,170 955.96,170.3 973.3,171 990.64,172 1007.98,173 1025.32,174" fill="none" stroke="#6ddc1f" stroke-width="3.4" stroke-linejoin="round" stroke-linecap="round"/>
<polyline points="11.3,367.6 19.6,367.6 36.94,368.5 54.28,368.5 71.62,212.7 88.96,213.6 106.3,218 123.64,222.7 140.98,230 158.32,231 175.66,229 193,213.6 210.34,215.5 227.68,211.8 245.02,197 262.36,193.6 279.7,176.7 297.04,178.2 314.38,177.3 331.72,177.3 349.06,188.2 366.4,192.7 383.74,195.5 401.08,190.5 418.42,168.2 435.76,150 453.1,134.5 470.44,132.4 487.78,92.7 505.12,91.3 522.46,91 539.8,91 557.14,91.3 574.48,89.5 591.82,90 609.16,88.5 626.5,98.5 643.84,127.3 661.18,146.4 678.52,147.3 695.86,169.5 713.2,174.5 730.54,175.5 747.88,173.3 765.22,167.6 782.56,164.5 799.9,162.2 817.24,171.8 834.58,202.7 851.92,217.3 869.26,223.6 886.6,224 903.94,221.8 921.28,215.5 938.62,214 955.96,214.5 973.3,223.6 990.64,228.7 1007.98,251 1025.32,261" fill="none" stroke="#7a48f2" stroke-width="1.25" stroke-linejoin="round"/>
<g class="msb" font-family='"Liberation Sans", sans-serif' font-size="9" font-weight="bold" fill="#ff2a2a">
<line x1="661.18" y1="212.4" x2="1026.4" y2="212.4" stroke="#f2403f" stroke-width="1.3"/>
<line x1="851.92" y1="271.6" x2="1026.4" y2="271.6" stroke="#f2403f" stroke-width="1.3"/>
<text x="653" y="225" textLength="16.6" lengthAdjust="spacingAndGlyphs">MSB</text>
<text x="843.6" y="284.2" textLength="16.8" lengthAdjust="spacingAndGlyphs">MSB</text>
</g>
<g class="axis" font-family='"Liberation Sans", sans-serif' font-size="9.6" fill="#858585">
<line x1="11.3" y1="588.4" x2="1086.4" y2="588.4" stroke="#888888" stroke-width="1"/>
<line x1="71.62" y1="588.4" x2="71.62" y2="595.3" stroke="#8a8a8a" stroke-width="1"/>
<text x="59.62" y="603.4" textLength="24" lengthAdjust="spacing">16:00</text>
<line x1="140.98" y1="588.4" x2="140.98" y2="595.3" stroke="#8a8a8a" stroke-width="1"/>
<text x="125.98" y="603.4" textLength="30" lengthAdjust="spacing">19. Sep</text>
<line x1="210.34" y1="588.4" x2="210.34" y2="595.3" stroke="#8a8a8a" stroke-width="1"/>
<text x="198.34" y="603.4" textLength="24" lengthAdjust="spacing">08:00</text>
<line x1="279.7" y1="588.4" x2="279.7" y2="595.3" stroke="#8a8a8a" stroke-width="1"/>
<text x="264.7" y="603.4" textLength="30" lengthAdjust="spacing">21. Sep</text>
<line x1="349.06" y1="588.4" x2="349.06" y2="595.3" stroke="#8a8a8a" stroke-width="1"/>
<text x="334.06" y="603.4" textLength="30" lengthAdjust="spacing">22. Sep</text>
<line x1="418.42" y1="588.4" x2="418.42" y2="595.3" stroke="#8a8a8a" stroke-width="1"/>
<text x="406.42" y="603.4" textLength="24" lengthAdjust="spacing">08:00</text>
<line x1="487.78" y1="588.4" x2="487.78" y2="595.3" stroke="#8a8a8a" stroke-width="1"/>
<text x="475.78" y="603.4" textLength="24" lengthAdjust="spacing">16:00</text>
<line x1="557.14" y1="588.4" x2="557.14" y2="595.3" stroke="#8a8a8a" stroke-width="1"/>
<text x="542.14" y="603.4" textLength="30" lengthAdjust="spacing">23. Sep</text>
<line x1="626.5" y1="588.4" x2="626.5" y2="595.3" stroke="#8a8a8a" stroke-width="1"/>
<text x="614.5" y="603.4" textLength="24" lengthAdjust="spacing">08:00</text>
<line x1="695.86" y1="588.4" x2="695.86" y2="595.3" stroke="#8a8a8a" stroke-width="1"/>
<text x="683.86" y="603.4" textLength="24" lengthAdjust="spacing">16:00</text>
<line x1="765.22" y1="588.4" x2="765.22" y2="595.3" stroke="#8a8a8a" stroke-width="1"/>
<text x="750.22" y="603.4" textLength="30" lengthAdjust="spacing">24. Sep</text>
<line x1="834.58" y1="588.4" x2="834.58" y2="595.3" stroke="#8a8a8a" stroke-width="1"/>
<text x="822.58" y="603.4" textLength="24" lengthAdjust="spacing">08:00</text>
<line x1="903.94" y1="588.4" x2="903.94" y2="595.3" stroke="#8a8a8a" stroke-width="1"/>
<text x="891.94" y="603.4" textLength="24" lengthAdjust="spacing">16:00</text>
<line x1="973.3" y1="588.4" x2="973.3" y2="595.3" stroke="#8a8a8a" stroke-width="1"/>
<text x="958.3" y="603.4" textLength="30" lengthAdjust="spacing">25. Sep</text>
<line x1="1042.66" y1="588.4" x2="1042.66" y2="595.3" stroke="#8a8a8a" stroke-width="1"/>
<text x="1030.66" y="603.4" textLength="24" lengthAdjust="spacing">08:00</text>
<text x="1052.7" y="65.4" textLength="37.3" lengthAdjust="spacing">6,760.00</text>
<text x="1052.7" y="115.4" textLength="37.3" lengthAdjust="spacing">6,740.00</text>
<text x="1052.7" y="165.4" textLength="37.3" lengthAdjust="spacing">6,720.00</text>
<text x="1052.7" y="215.4" textLength="37.3" lengthAdjust="spacing">6,700.00</text>
<text x="1052.7" y="265.4" textLength="37.3" lengthAdjust="spacing">6,680.00</text>
<text x="1052.7" y="315.4" textLength="37.3" lengthAdjust="spacing">6,660.00</text>
<text x="1052.7" y="365.4" textLength="37.3" lengthAdjust="spacing">6,640.00</text>
<text x="1052.7" y="415.4" textLength="37.3" lengthAdjust="spacing">6,620.00</text>
<text x="1052.7" y="465.4" textLength="37.3" lengthAdjust="spacing">6,600.00</text>
<text x="1052.7" y="515.4" textLength="37.3" lengthAdjust="spacing">6,580.00</text>
<text x="1052.7" y="565.4" textLength="37.3" lengthAdjust="spacing">6,560.00</text>
<text x="16.2" y="588.7" font-size="8.7" fill="#bcbcbc" textLength="140.6" lengthAdjust="spacing">©2025 TrendSpider. Market data via ICE.</text>
<text x="1017.3" y="586" font-size="8.8" fill="#8f8f8f" textLength="69" lengthAdjust="spacingAndGlyphs">Your local time zone</text>
</g>
<g class="plabel" font-family='"Liberation Sans", sans-serif'>
<rect x="1045.2" y="300.9" width="48.5" height="14" rx="2.2" fill="#ef5350"/>
<text x="1051.6" y="311.7" font-size="10.3" fill="#fff" textLength="38" lengthAdjust="spacing">6,663.25</text>
</g>
</svg>

<div class="toolbar">
 <div class="tb-btn grey" style="left:14.5px;width:39.6px;">
  <svg width="40" height="18" viewBox="0 0 40 18"><g stroke="#5a4fcf" fill="#5a4fcf"><line x1="5.9" y1="3.3" x2="5.9" y2="14.5" stroke-width="1"/><rect x="4.55" y="5.7" width="2.7" height="6.4" stroke="none"/><line x1="11.7" y1="10" x2="11.7" y2="14.3" stroke-width="1"/><rect x="10.4" y="3" width="2.6" height="7.9" rx="0.6" stroke="none"/><path d="M26.6 6.8 L33.6 6.8 L30.1 10.9 Z" stroke="none"/></g></svg>
 </div>
 <div class="tb-btn grey" style="left:62.2px;width:61px;border-radius:3px 0 0 3px;">
  <span class="tb-txt" id="stb1" style="left:3.4px;">2 hours</span>
  <svg width="60" height="18" viewBox="0 0 60 18"><path d="M48.2 6.6 L55.4 6.6 L51.8 10.8 Z" fill="#5a4fcf"/></svg>
 </div>
 <div class="tb-btn" style="left:123px;width:22px;border-radius:0;border-color:#dedede #fff #dedede #fff;">
  <span class="tb-txt" id="stb2" style="left:2.5px;">2m</span>
 </div>
 <div class="tb-btn green" style="left:144.8px;width:18.8px;border-radius:0 3px 3px 0;">
  <span class="tb-txt" id="stb3" style="left:2.2px;color:#fff;letter-spacing:0;-webkit-text-stroke:0.4px #fff;">2h</span>
 </div>
 <div class="tb-btn" style="left:179.2px;width:23.4px;">
  <svg width="21" height="18" viewBox="0 0 21 18.7"><g fill="none" stroke="#5a4fcf" stroke-width="1.1"><path d="M9.1 2.6 h2.8 l0.5 1.9 l1.2 0.7 l1.9 -0.6 l1.4 2.4 l-1.4 1.3 v1.4 l1.4 1.3 l-1.4 2.4 l-1.9 -0.6 l-1.2 0.7 l-0.5 1.9 h-2.8 l-0.5 -1.9 l-1.2 -0.7 l-1.9 0.6 l-1.4 -2.4 l1.4 -1.3 v-1.4 l-1.4 -1.3 l1.4 -2.4 l1.9 0.6 l1.2 -0.7 Z" stroke-linejoin="round"/><circle cx="10.5" cy="9" r="2.2"/></g></svg>
 </div>
 <div class="tb-btn green" style="left:210.8px;width:23.3px;">
  <svg width="22" height="18" viewBox="0 0 22 18"><g fill="none" stroke="#fff" stroke-width="1.15"><path d="M2.6 10.5 L6.4 6.6 L9.4 11 L11.8 8.7 L16.5 15.3"/><path d="M9.9 1.1 V2 M9.9 3.9 V8.2 M9.9 9.6 V15.3"/></g></svg>
 </div>
 <div class="tb-btn grey" style="left:236.4px;width:23.6px;border-color:#d4d4d4;">
  <svg width="21" height="18" viewBox="0 0 21 18"><g fill="none" stroke="#444" stroke-width="1.25"><circle cx="10.7" cy="8.6" r="5.4"/><path d="M10.7 5.2 V8.6 L13.1 10.5"/></g></svg>
 </div>
 <div class="tb-btn" style="left:262.3px;width:23.4px;">
  <svg width="21" height="18" viewBox="0 0 21 18"><g fill="none" stroke="#675dd6" stroke-width="0.95"><circle cx="10.5" cy="9.6" r="2.5"/><path d="M2.8 11.9 L17.9 7.2 M10.9 3 L10.4 15.7"/><path d="M9.7 4.6 L10.9 3 L11.9 4.7 M9.2 14.1 L10.4 15.7 L11.6 14.2" stroke-width="0.7"/></g><rect x="9.6" y="8.7" width="1.8" height="1.8" fill="#675dd6"/></svg>
 </div>
 <div class="tb-btn" style="left:287.5px;width:23.6px;">
  <svg width="21" height="18" viewBox="0 0 21 18"><g fill="none" stroke="#8a82e0" stroke-width="0.9"><path d="M4.9 1.5 V15.7"/><path d="M3.9 3.2 H5.9 M3.9 7 H5.9 M3.9 10.4 H5.9 M3.9 12.6 H5.9 M3.9 14.4 H5.9" stroke-width="0.7"/></g><text x="7.3" y="12.9" font-family='"Liberation Sans",sans-serif' font-size="8.2" fill="#6a60d8" stroke="#6a60d8" stroke-width="0.25" textLength="10.2" lengthAdjust="spacingAndGlyphs">Lin</text></svg>
 </div>
 <svg style="position:absolute;left:1040px;top:10px" width="50" height="18" viewBox="0 0 50 18">
  <g fill="none" stroke="#625acc" stroke-width="1.25"><path d="M3.9 8 V4.6 H7.4"/><path d="M10.4 4.6 H13.6 V8"/><path d="M13.6 11.2 V14.4 H10.4"/><path d="M7.4 14.4 H3.9 V11.2"/></g>
  <path d="M29 4.6 h2.2 l0.9 -1.5 h4 l0.9 1.5 h2 q0.8 0 0.8 0.8 v7.4 q0 0.8 -0.8 0.8 h-10 q-0.8 0 -0.8 -0.8 v-7.4 q0 -0.8 0.8 -0.8 Z" fill="#4f49c0"/>
  <circle cx="34" cy="9" r="2.3" fill="none" stroke="#fff" stroke-width="1.3"/>
 </svg>
</div>

<div class="titlebar">
<span class="tb" id="stt" style="left:14.5px;color:#222;letter-spacing:0.196px">E-mini S&amp;P 500 Index Futures, (continuous, current), 2 hours, CME</span>
<span class="to" id="so1" style="left:393.3px;color:#444;letter-spacing:-1.641px">O</span>
<span class="to" id="so2" style="left:403.5px;color:#2a9d8f;letter-spacing:-0.211px">6,750.50</span>
<span class="to" id="sh1" style="left:456.5px;color:#444;letter-spacing:-1.219px">H</span>
<span class="to" id="sh2" style="left:467.5px;color:#2a9d8f;letter-spacing:-0.211px">6,752.50</span>
<span class="to" id="sl1" style="left:521px;color:#444;letter-spacing:-1.172px">L</span>
<span class="to" id="sl2" style="left:530px;color:#2a9d8f;letter-spacing:-0.211px">6,750.25</span>
<span class="to" id="sc1" style="left:582px;color:#444;letter-spacing:-1.016px">C</span>
<span class="to" id="sc2" style="left:592px;color:#2a9d8f;letter-spacing:-0.211px">6,751.25</span>
<span class="to" id="sp1" style="left:645px;color:#444;letter-spacing:-0.513px">Period</span>
<span class="to" id="sp2" style="left:678.5px;color:#2a9d8f;letter-spacing:0.245px">+0.75 (+0.011%)</span>
</div>
<div class="legend">
<span class="lt" id="s1_0" style="left:14.5px;top:58.8px;color:#e8622a;letter-spacing:-0.127px">SMA (200, 0, close)</span>
<span class="eye" style="left:101.2px;top:57.3px;width:17.4px"><svg viewBox="0 0 20 14" width="20" height="14"><g fill="none" stroke="#5a4fcf" stroke-width="0.85"><path d="M3.5 6.7 C5.2 1.4 14.4 1.4 16.1 6.7 C14.4 12 5.2 12 3.5 6.7 Z" stroke-opacity="0.75"/><circle cx="9.8" cy="6.7" r="1.85" fill="#4d43c6" stroke="none"/><path d="M5 2 L14.5 11.2" stroke-width="0.9"/></g></svg></span>
<span class="lt" id="s2_0" style="left:14.5px;top:75.15px;color:#4a8ef5;letter-spacing:-0.126px">VWAP (14, 0, hlc3)</span>
<span class="lt" id="s2_1" style="left:100px;top:75.15px;color:#4a8ef5;letter-spacing:-0.123px">6,682.22</span>
<span class="lt" id="s3_0" style="left:14.5px;top:91.5px;color:#6cd62a;letter-spacing:-0.146px">SMA (50, 0, close)</span>
<span class="lt" id="s3_1" style="left:97.5px;top:91.5px;color:#6cd62a;letter-spacing:-0.186px">6,717.16</span>
<span class="lt" id="s4_0" style="left:14.5px;top:107.85px;color:#5b4b99;letter-spacing:-0.110px">VbP (25, manual)</span>
<span class="eye" style="left:92.4px;top:106.35px;width:17.3px"><svg viewBox="0 0 20 14" width="20" height="14"><g fill="none" stroke="#5a4fcf" stroke-width="0.85"><path d="M3.5 6.7 C5.2 1.4 14.4 1.4 16.1 6.7 C14.4 12 5.2 12 3.5 6.7 Z" stroke-opacity="0.75"/><circle cx="9.8" cy="6.7" r="1.85" fill="#4d43c6" stroke="none"/><path d="M5 2 L14.5 11.2" stroke-width="0.9"/></g></svg></span>
<span class="lt" id="s5_0" style="left:14.5px;top:124.2px;color:#3c6b8a;letter-spacing:-0.081px">BB (20, 2, 2, 0, close)</span>
<span class="lt" id="s5_1" style="left:112.5px;top:124.2px;color:#3c6b8a;letter-spacing:-0.105px">6,738.70 6,701.98 6,665.25</span>
<span class="lt" id="s6_0" style="left:14.5px;top:140.55px;color:#19e619;letter-spacing:-0.100px">Market Structure Break (MSB) Detector by TrendSpider Team (3, 20, 100)</span>
<span class="lt" id="s6_1" style="left:325.5px;top:140.55px;color:#19e619;letter-spacing:-0.089px">6,606.000 6,623.500 6,629.000</span>
<span class="lt" id="s6_2" style="left:458px;top:140.55px;color:#f23a3a;letter-spacing:-0.099px">6,701.750 6,678.000</span>
<span class="lt" id="s7_0" style="left:14.5px;top:156.9px;color:#ff9838;letter-spacing:-0.095px">MenthorQ - Gamma Levels by MenthorQ (150, Intraday)</span>
<span class="lt" id="s8_0" style="left:14.5px;top:173.25px;color:#ffb43a;letter-spacing:-0.114px">MenthorQ Blind Spots by MenthorQ (150)</span>
<span class="lt" id="s9_0" style="left:14.5px;top:189.6px;color:#333333;letter-spacing:-0.151px">MenthorQ - Conversions by MenthorQ (SPY, ES1!, EOD, Auto, 9:30 AM, 1, 150)</span>
<span class="eye" style="left:346.2px;top:188.1px;width:16.5px"><svg viewBox="0 0 20 14" width="20" height="14"><g fill="none" stroke="#5a4fcf" stroke-width="0.85"><path d="M3.5 6.7 C5.2 1.4 14.4 1.4 16.1 6.7 C14.4 12 5.2 12 3.5 6.7 Z" stroke-opacity="0.75"/><circle cx="9.8" cy="6.7" r="1.85" fill="#4d43c6" stroke="none"/><path d="M5 2 L14.5 11.2" stroke-width="0.9"/></g></svg></span>
<span class="lt" id="s10_0" style="left:14.5px;top:205.95px;color:#ff9838;letter-spacing:-0.186px">MenthorQ Gamma Levels by MenthorQ (150, EOD)</span>
<span class="lt" id="s11_0" style="left:14.5px;top:222.3px;color:#b7a3e0;letter-spacing:-0.169px">MACD (12, 26, 9, close)</span>
<span class="eye" style="left:119px;top:220.8px;width:17.5px"><svg viewBox="0 0 20 14" width="20" height="14"><g fill="none" stroke="#5a4fcf" stroke-width="0.85"><path d="M3.5 6.7 C5.2 1.4 14.4 1.4 16.1 6.7 C14.4 12 5.2 12 3.5 6.7 Z" stroke-opacity="0.75"/><circle cx="9.8" cy="6.7" r="1.85" fill="#4d43c6" stroke="none"/><path d="M5 2 L14.5 11.2" stroke-width="0.9"/></g></svg></span>
<span class="lt" id="s12_0" style="left:14.5px;top:238.65px;color:#b7a3e0;letter-spacing:-0.006px">Stoch (14, 3, 3, 80, 20)</span>
<span class="eye" style="left:117.2px;top:237.15px;width:17px"><svg viewBox="0 0 20 14" width="20" height="14"><g fill="none" stroke="#5a4fcf" stroke-width="0.85"><path d="M3.5 6.7 C5.2 1.4 14.4 1.4 16.1 6.7 C14.4 12 5.2 12 3.5 6.7 Z" stroke-opacity="0.75"/><circle cx="9.8" cy="6.7" r="1.85" fill="#4d43c6" stroke="none"/><path d="M5 2 L14.5 11.2" stroke-width="0.9"/></g></svg></span>
<span class="lt" id="s13_0" style="left:14.5px;top:255px;color:#7a44f2;letter-spacing:-0.126px">VWAP (14, 0, hlc3)</span>
<span class="lt" id="s13_1" style="left:100px;top:255px;color:#7a44f2;letter-spacing:-0.123px">6,682.22</span>
<span class="ticon" style="left:15.6px;top:272.55px"><svg viewBox="0 0 10 10" width="10" height="10"><circle cx="4.4" cy="5.3" r="3.3" fill="#fbe9ee" stroke="#e8436a" stroke-width="1.5"/><circle cx="4.4" cy="5.3" r="1.25" fill="#e8436a"/><path d="M4.5 5.2 L8 1.7" stroke="#2d9cf0" stroke-width="1.3"/><path d="M6.6 1.2 L8 0 L8.6 1.2 L9.7 1.8 L8.6 3.2 Z" fill="#2d8cf0"/></svg></span>
<span class="lt" id="s14_1" style="left:66px;top:271.35px;color:#ffffff;letter-spacing:-0.019px">: 20, 14, 3, 10, 20, 50, 60, 14, 0.6, 1.3, 1.5, no, 3, 40, 12, no)</span>
<span class="lt" id="s15_0" style="left:14.5px;top:287.7px;color:#2f7cf6;letter-spacing:-0.136px">VWMA (20, 0, close)</span>
<span class="lt" id="s15_1" style="left:106.5px;top:287.7px;color:#2f7cf6;letter-spacing:-0.123px">6,692.89</span>
<span class="lt" id="s16_0" style="left:14.5px;top:304.05px;color:#4a2f7c;letter-spacing:-0.110px">VbP (35, manual)</span>
<span class="lt" id="s17_0" style="left:14.5px;top:320.4px;color:#2aa198;letter-spacing:-0.102px">VWAP + Stdev Bands (1, 2, 3, 4, 1D, 90, Current VWAP, hlc3, 0)</span>
<span class="eye" style="left:285.5px;top:318.9px;width:17.5px"><svg viewBox="0 0 20 14" width="20" height="14"><g fill="none" stroke="#5a4fcf" stroke-width="0.85"><path d="M3.5 6.7 C5.2 1.4 14.4 1.4 16.1 6.7 C14.4 12 5.2 12 3.5 6.7 Z" stroke-opacity="0.75"/><circle cx="9.8" cy="6.7" r="1.85" fill="#4d43c6" stroke="none"/><path d="M5 2 L14.5 11.2" stroke-width="0.9"/></g></svg></span>
<span class="lt" id="s18_0" style="left:14.5px;top:336.75px;color:#2f4f6f;letter-spacing:-0.090px">URSI (14, 21, 20, 2, 2, SMA, 80, 20, close)</span>
<span class="eye" style="left:196.5px;top:335.25px;width:17.5px"><svg viewBox="0 0 20 14" width="20" height="14"><g fill="none" stroke="#5a4fcf" stroke-width="0.85"><path d="M3.5 6.7 C5.2 1.4 14.4 1.4 16.1 6.7 C14.4 12 5.2 12 3.5 6.7 Z" stroke-opacity="0.75"/><circle cx="9.8" cy="6.7" r="1.85" fill="#4d43c6" stroke="none"/><path d="M5 2 L14.5 11.2" stroke-width="0.9"/></g></svg></span>
<span class="lt" id="s19_0" style="left:14.5px;top:353.1px;color:#2fb3f5;letter-spacing:-0.064px">ADXDI (14, 35, 20)</span>
<span class="eye" style="left:100px;top:351.6px;width:17.5px"><svg viewBox="0 0 20 14" width="20" height="14"><g fill="none" stroke="#5a4fcf" stroke-width="0.85"><path d="M3.5 6.7 C5.2 1.4 14.4 1.4 16.1 6.7 C14.4 12 5.2 12 3.5 6.7 Z" stroke-opacity="0.75"/><circle cx="9.8" cy="6.7" r="1.85" fill="#4d43c6" stroke="none"/><path d="M5 2 L14.5 11.2" stroke-width="0.9"/></g></svg></span>
<span class="lt" id="s20_0" style="left:14.5px;top:369.45px;color:#5e9a1e;letter-spacing:-0.018px">MFI (14, 20, 80)</span>
<span class="eye" style="left:88.5px;top:367.95px;width:17.1px"><svg viewBox="0 0 20 14" width="20" height="14"><g fill="none" stroke="#5a4fcf" stroke-width="0.85"><path d="M3.5 6.7 C5.2 1.4 14.4 1.4 16.1 6.7 C14.4 12 5.2 12 3.5 6.7 Z" stroke-opacity="0.75"/><circle cx="9.8" cy="6.7" r="1.85" fill="#4d43c6" stroke="none"/><path d="M5 2 L14.5 11.2" stroke-width="0.9"/></g></svg></span>
<span class="lt" id="s21_0" style="left:14.5px;top:385.8px;color:#333333;letter-spacing:-0.465px">Fibs</span>
<span class="lt" id="s22_0" style="left:14.5px;top:402.15px;color:#333333;letter-spacing:-0.213px">Drawings</span>
</div>
<svg class="corner" width="10" height="12" viewBox="0 0 10 12" style="position:absolute;left:0;top:595.5px"><circle cx="2.3" cy="5.8" r="4.4" fill="#fff" stroke="#b4b4b4" stroke-width="0.8"/><path d="M1.1 3.7 L4 5.9 L1.1 8.1" fill="none" stroke="#707070" stroke-width="1"/></svg>
</body></html>
